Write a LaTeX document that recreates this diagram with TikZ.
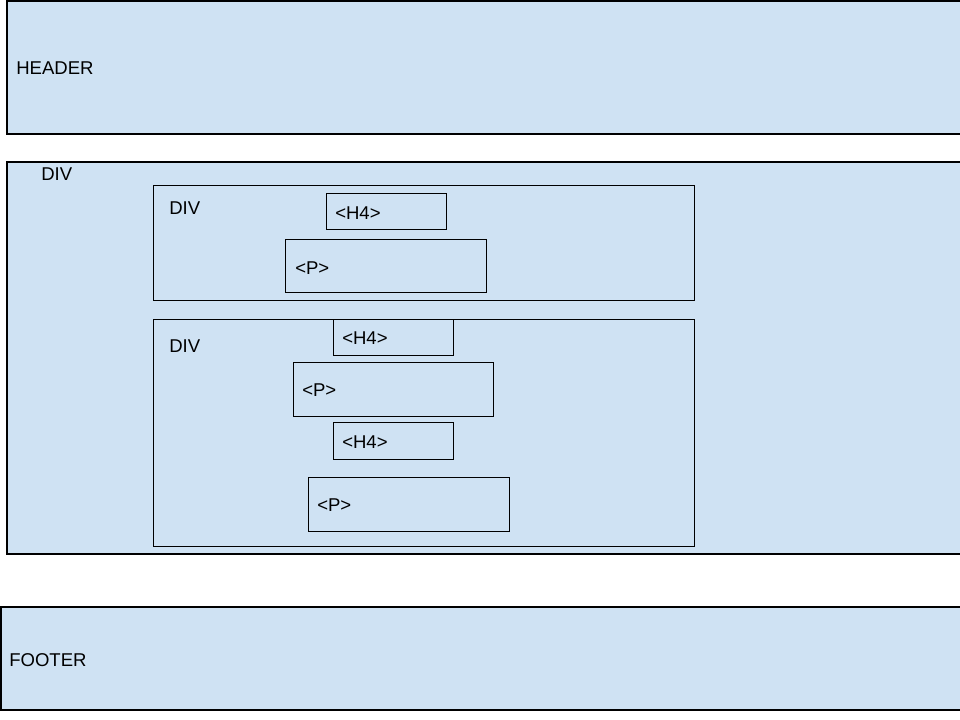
\documentclass[tikz,border=0pt]{standalone}
\usepackage{fontspec}
\setmainfont{Liberation Sans}
\definecolor{paleblue}{HTML}{CFE2F3}
\begin{document}
\begin{tikzpicture}[
	x=0.75pt, y=-0.75pt,
	outer/.style={draw=black, fill=paleblue, line width=0.9pt},
	box/.style={draw=black, fill=paleblue, line width=0.75pt},
	lbl/.style={anchor=west, inner sep=0pt, font=\fontsize{13.9}{16}\selectfont}
	]
	\useasboundingbox (0,0) rectangle (960,720);
	
	%-----------------------
	% Header
	%-----------------------
	\draw[outer] (7,1) rectangle (966,134);
	\node[lbl] (header) at (16,68) {HEADER};
	
	%-----------------------
	% Main div
	%-----------------------
	\draw[outer] (7,162) rectangle (966,554);
	\node[lbl] (div) at (41,174) {DIV};
	
	% first inner div
	\draw[box] (153,186) rectangle (694,301);
	\node[lbl] (div-1) at (169,208) {DIV};
	\draw[box] (326,194) rectangle (446,230);
	\node[lbl] (h4-1) at (335,213) {<H4>};
	\draw[box] (285,240) rectangle (486,293);
	\node[lbl] (p-1) at (295,268) {<P>};
	
	% second inner div
	\draw[box] (153,319) rectangle (694,546);
	\node[lbl] (div-2) at (169,346) {DIV};
	\draw[box] (333,319) rectangle (453,355);
	\node[lbl] (h4-2) at (342,338) {<H4>};
	\draw[box] (293,362) rectangle (493,416);
	\node[lbl] (p-2) at (302,390) {<P>};
	\draw[box] (333,422) rectangle (453,459);
	\node[lbl] (h4-3) at (342,442) {<H4>};
	\draw[box] (308,477) rectangle (509,531);
	\node[lbl] (p-3) at (317,505) {<P>};
	
	%-----------------------
	% Footer
	%-----------------------
	\draw[outer] (1,607) rectangle (966,710);
	\node[lbl] (footer) at (9,660) {FOOTER};
	
\end{tikzpicture}
\end{document}
